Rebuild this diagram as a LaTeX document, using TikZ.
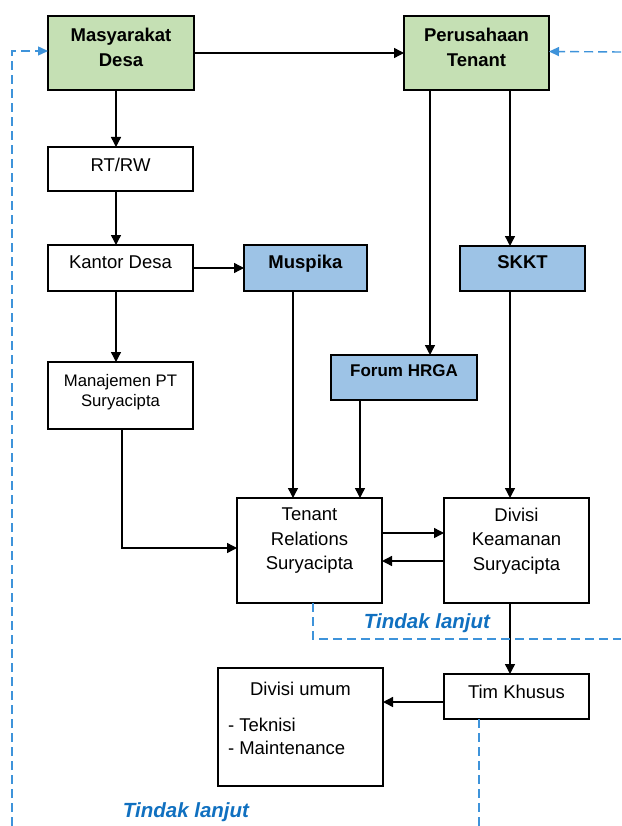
\documentclass[tikz,border=0pt]{standalone}
\usepackage{fontspec}
\setmainfont{Liberation Sans}
\usetikzlibrary{arrows.meta,positioning}

\definecolor{boxgreen}{HTML}{C5E0B4}
\definecolor{boxblue}{HTML}{9DC3E6}
\definecolor{dashblue}{HTML}{3E93DA}
\definecolor{textblue}{HTML}{1070C0}

\tikzset{
  box/.style={draw, line width=1.4pt, inner sep=0pt, outer sep=0pt},
  greenbox/.style={box, fill=boxgreen},
  bluebox/.style={box, fill=boxblue},
  wh/.style n args={2}{minimum width=#1, minimum height=#2},
  txt/.style={inner sep=0pt, outer sep=0pt, align=center, font=\fontsize{18.5}{24.5}\selectfont},
  boldtxt/.style={txt, font=\fontsize{18.5}{25}\selectfont\bfseries},
  followtxt/.style={inner sep=0pt, anchor=base, text=textblue, font=\fontsize{20.5}{24}\selectfont\bfseries\itshape},
  arr/.style={line width=1.4pt, -{Triangle[length=10pt,width=10pt]}},
  dashln/.style={draw=dashblue, line width=1.4pt, dash pattern=on 9pt off 5pt},
  dasharr/.style={dashln, -{Triangle[length=10pt,width=9pt]}},
}

\begin{document}
\begin{tikzpicture}[x=1pt,y=-1pt]
\useasboundingbox (0,0) rectangle (621,826);

% columns of the vertical connectors
\coordinate (colA) at (116,0);
\coordinate (colP) at (122,0);
\coordinate (colM) at (293,0);
\coordinate (colH) at (360,0);
\coordinate (colF) at (430,0);
\coordinate (colS) at (510,0);

% free ends of the dashed lines
\coordinate (leftEnd) at (12,826);
\coordinate (rightEnd) at (621,52);
\coordinate (trEnd) at (621,639);
\coordinate (tkEnd) at (479,826);

% top row
\node[greenbox, wh={146pt}{74pt}] (masy) at (121,53) {};
\node[boldtxt, below=12pt of masy.north] (masyT) {Masyarakat\\Desa};

\node[greenbox, wh={145pt}{74pt}] (peru) at (476.5,53) {};
\node[boldtxt, below=12pt of peru.north] (peruT) {Perusahaan\\Tenant};

% left column
\node[box, wh={145pt}{44pt}] (rtrw) at (120.5,169) {};
\node[txt, below=11pt of rtrw.north] (rtrwT) {RT/RW};

\node[box, wh={145pt}{46pt}] (kantor) at (120.5,268) {};
\node[txt, below=10.5pt of kantor.north] (kantorT) {Kantor Desa};

\node[box, wh={145pt}{67pt}] (manaj) at (120.5,395.5) {};
\node[txt, font=\fontsize{16.7}{20.5}\selectfont, below=12pt of manaj.north] (manajT) {Manajemen PT\\Suryacipta};

% blue boxes
\node[bluebox, wh={123pt}{46pt}] (muspika) at (305.5,268) {};
\node[boldtxt, below=10pt of muspika.north] (muspikaT) {Muspika};

\node[bluebox, wh={125pt}{45pt}] (skkt) at (522.5,268.5) {};
\node[boldtxt, below=9.5pt of skkt.north] (skktT) {SKKT};

\node[bluebox, wh={146pt}{45pt}] (forum) at (404,377.5) {};
\node[boldtxt, font=\fontsize{17}{20}\selectfont\bfseries, below=10pt of forum.north] (forumT) {Forum HRGA};

% middle row
\node[box, wh={145pt}{105pt}] (tr) at (309.5,550.5) {};
\node[txt, below=10pt of tr.north] (trT) {Tenant\\Relations\\Suryacipta};

\node[box, wh={145pt}{105pt}] (dk) at (516.5,550.5) {};
\node[txt, below=10pt of dk.north] (dkT) {Divisi\\Keamanan\\Suryacipta};

% bottom row
\node[box, wh={165pt}{118pt}] (du) at (300.5,727) {};
\node[txt, below=14pt of du.north] (duT) {Divisi umum};
\node[txt, align=left, font=\fontsize{18.5}{23}\selectfont, below right=50pt and 10pt of du.north west] (duList) {- Teknisi\\- Maintenance};

\node[box, wh={145pt}{45pt}] (tk) at (516.5,696.5) {};
\node[txt, below=11pt of tk.north] (tkT) {Tim Khusus};
\coordinate (tkOut) at ([yshift=-5.5pt]tk.west);

% follow-up labels
\node[followtxt] (follow1) at (427,628) {Tindak lanjut};
\node[followtxt] (follow2) at (186,817) {Tindak lanjut};

% connectors
\draw[arr] (masy.east) -- (peru.west);
\draw[arr] (masy.south -| colA) -- (rtrw.north -| colA);
\draw[arr] (rtrw.south -| colA) -- (kantor.north -| colA);
\draw[arr] (kantor.south -| colA) -- (manaj.north -| colA);
\draw[arr] (kantor.east) -- (muspika.west);
\draw[arr] (manaj.south -| colP) |- ([yshift=2.5pt]tr.west);
\draw[arr] (peru.south -| colF) -- (forum.north -| colF);
\draw[arr] (peru.south -| colS) -- (skkt.north -| colS);
\draw[arr] (muspika.south -| colM) -- (tr.north -| colM);
\draw[arr] (forum.south -| colH) -- (tr.north -| colH);
\draw[arr] (skkt.south -| colS) -- (dk.north -| colS);
\draw[arr] ([yshift=17.5pt]tr.east) -- ([yshift=17.5pt]dk.west);
\draw[arr] ([yshift=-10.5pt]dk.west) -- ([yshift=-10.5pt]tr.east);
\draw[arr] (dk.south -| colS) -- (tk.north -| colS);
\draw[arr] (tkOut) -- (tkOut -| du.east);

% dashed follow-up lines
\draw[dasharr] (leftEnd) |- ([yshift=2pt]masy.west);
\draw[dasharr] (rightEnd) -- ([yshift=1.5pt]peru.east);
\draw[dashln] ([xshift=3.5pt]tr.south) |- (trEnd);
\draw[dashln] (tk.south -| tkEnd) -- (tkEnd);

\end{tikzpicture}
\end{document}
